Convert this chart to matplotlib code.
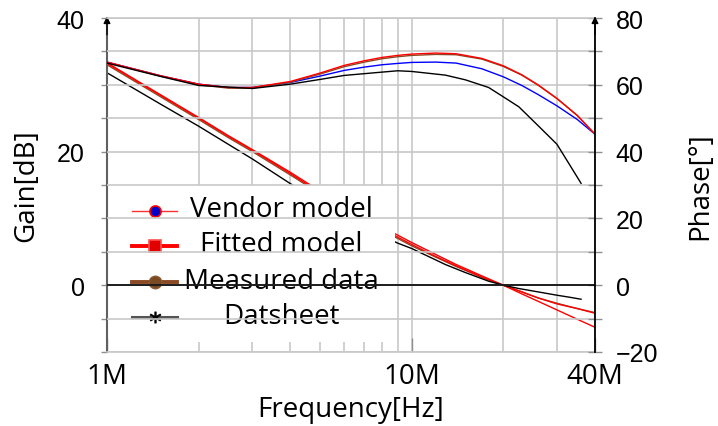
import matplotlib
matplotlib.use("Agg")
import matplotlib.pyplot as plt
from matplotlib.lines import Line2D
from matplotlib.patches import Rectangle
from matplotlib.ticker import FixedLocator, FixedFormatter, NullFormatter

# ---- data (frequency in MHz) ----
freq_mhz = [1, 1.5, 2, 2.5, 3, 4, 5, 6, 7, 8, 9, 10, 12, 14, 17, 20, 23, 26, 30, 35, 40]

vendor_gain = [33.3, 28.5, 25.1, 22.4, 20.3, 16.9, 14.1, 11.9, 10.2, 8.7, 7.5, 6.4,
               4.6, 3.1, 1.4, 0.0, -1.3, -2.4, -3.7, -5.1, -6.3]
fitted_gain = [33.2, 28.4, 25.0, 22.3, 20.2, 16.7, 13.9, 11.7, 9.9, 8.4, 7.2, 6.1,
               4.3, 2.9, 1.2, 0.0, -1.0, -1.9, -2.8, -3.5, -4.2]
measured_gain = [33.0, 28.2, 24.8, 22.1, 20.0, 16.5, 13.7, 11.5, 9.7, 8.2, 7.0, 5.9,
                 4.2, 2.8, 1.2, 0.0, -1.0, -1.9, -2.7, -3.5, -4.1]

vendor_phase = [66.8, 62.7, 60.2, 59.2, 59.2, 60.7, 62.6, 64.3, 65.3, 66.0, 66.4, 66.7,
                66.8, 66.5, 64.8, 62.4, 59.8, 57.1, 53.7, 49.6, 45.2]
fitted_phase = [66.8, 62.7, 60.2, 59.2, 59.2, 61.0, 63.5, 65.8, 67.2, 68.2, 68.8, 69.2,
                69.5, 69.3, 67.9, 65.7, 63.0, 60.0, 55.9, 50.8, 45.2]
measured_phase = [66.7, 62.6, 60.0, 59.0, 59.0, 60.8, 63.2, 65.4, 66.8, 67.8, 68.4, 68.8,
                  69.1, 69.0, 67.7, 65.5, 62.9, 59.9, 55.9, 50.8, 45.2]

# datasheet values are sparser and stop before 40M
sheet_freq_mhz = [1, 1.5, 2, 3, 4, 5, 6, 8, 9, 10, 12.9, 15, 17.9, 20, 22.5, 26, 30, 33, 36]
sheet_gain = [31.8, 27.1, 23.8, 18.9, 15.2, 12.5, 10.4, 7.4, 6.3, 5.5, 3.1, 1.9, 0.6,
              0.0, -0.5, -1.0, -1.5, -1.8, -2.1]
sheet_phase = [66.5, 62.5, 59.8, 58.9, 60.2, 61.6, 62.8, 63.8, 64.2, 64.0, 62.9, 61.5,
               59.2, 56.4, 53.4, 47.8, 42.2, 36.1, 30.5]

legend_labels = ["Vendor model", "Fitted model", "Measured data", "Datsheet"]

RED = "#ff0000"
BROWN = "#8a4a24"
GRID = "#c8c8c8"
LABEL_FONT = "Open Sans"
TICK_FONT = "Liberation Sans"


def num(v):
    # long minus like the original
    return str(v).replace("-", "\u2212")


f = [v * 1e6 for v in freq_mhz]
fs = [v * 1e6 for v in sheet_freq_mhz]

fig = plt.figure(figsize=(7.18, 4.27), dpi=100)
ax1 = fig.add_axes([107 / 718, 74 / 427, 488 / 718, 334 / 427])
ax2 = ax1.twinx()

# ---- gain axis (left) ----
ax1.set_xscale("log")
ax1.set_xlim(1e6, 40e6)
ax1.set_ylim(-10, 40)

ax1.plot(f, vendor_gain, color=RED, lw=1.0)
ax1.plot(f, measured_gain, color=BROWN, lw=1.0)
ax1.plot(f, fitted_gain, color=RED, lw=1.0)
ax1.plot(fs, sheet_gain, color="black", lw=1.0)

ax1.xaxis.set_major_locator(FixedLocator([1e6, 10e6, 40e6]))
ax1.xaxis.set_major_formatter(FixedFormatter(["1M", "10M", "40M"]))
minor_x = [k * 1e6 for k in range(2, 10)] + [20e6, 30e6]
ax1.xaxis.set_minor_locator(FixedLocator(minor_x))
ax1.xaxis.set_minor_formatter(NullFormatter())
ax1.grid(True, which="minor", axis="x", color=GRID, lw=1.2)
ax1.grid(True, which="major", axis="x", color=GRID, lw=1.2)
ax1.tick_params(axis="x", which="major", direction="in", length=10, width=1,
                color="#909090", pad=7, labelsize=20)
ax1.tick_params(axis="x", which="minor", length=0)
for t in ax1.get_xticklabels():
    t.set_fontfamily(LABEL_FONT)

ax1.yaxis.set_major_locator(FixedLocator(list(range(-10, 45, 5))))
ax1.yaxis.set_major_formatter(FixedFormatter(
    ["" if v not in (0, 20, 40) else num(v) for v in range(-10, 45, 5)]))
ax1.tick_params(axis="y", direction="out", length=4, width=1, color="#909090",
                pad=12, labelsize=18)
for t in ax1.get_yticklabels():
    t.set_fontfamily(TICK_FONT)

ax1.set_xlabel("Frequency[Hz]", fontsize=20, fontfamily=LABEL_FONT, labelpad=4)
ax1.set_ylabel("Gain[dB]", fontsize=20, fontfamily=LABEL_FONT, labelpad=12)

for side in ("top", "right"):
    ax1.spines[side].set_visible(False)
ax1.spines["left"].set_color("#606060")
ax1.spines["left"].set_linewidth(1.5)
ax1.spines["bottom"].set_color(GRID)
ax1.spines["bottom"].set_linewidth(1.2)

# legend drawn by hand so the text can be centred like the original
ax1.add_patch(Rectangle((0.012, 0.03), 0.578, 0.47, transform=ax1.transAxes,
                        facecolor="white", edgecolor="none", zorder=5))
rows = [0.427, 0.322, 0.214, 0.108]
styles = [
    dict(color="#ff3030", lw=1.0, marker="o", ms=8, mfc="#0000c8", mec=RED, mew=1.2),
    dict(color=RED, lw=2.8, marker="s", ms=8, mfc="#e00000", mec="#ff5050", mew=1.2),
    dict(color=BROWN, lw=2.8, marker="o", ms=9, mfc="#7a4a22", mec="#8a5a32", mew=1),
    dict(color="#555555", lw=2.2, marker="$*$", ms=8, mfc="black", mec="black", mew=0.6),
]
for y, lab, st in zip(rows, legend_labels, styles):
    ax1.add_line(Line2D([0.051, 0.143], [y - 0.004, y - 0.004], transform=ax1.transAxes,
                        color=st["color"], lw=st["lw"], zorder=6))
    ax1.add_line(Line2D([0.098], [y - 0.004], transform=ax1.transAxes, ls="none",
                        marker=st["marker"], ms=st["ms"], mfc=st["mfc"],
                        mec=st["mec"], mew=st["mew"], zorder=7))
    ax1.text(0.357, y, lab, transform=ax1.transAxes, ha="center", va="center",
             fontsize=20, fontfamily=LABEL_FONT, zorder=7)

ax1.annotate("", xy=(0, 1.005), xytext=(0, 0.95), xycoords="axes fraction",
             arrowprops=dict(arrowstyle="-|>", color="black", lw=1.0,
                             mutation_scale=10, shrinkA=0, shrinkB=0))

# ---- phase axis (right) ----
ax2.set_ylim(-20, 80)
ax2.yaxis.set_major_locator(FixedLocator(list(range(-20, 90, 10))))
ax2.yaxis.set_major_formatter(FixedFormatter(
    [num(v) if v % 20 == 0 else "" for v in range(-20, 90, 10)]))
ax2.grid(True, axis="y", color=GRID, lw=1.2)
ax2.tick_params(axis="y", direction="inout", length=10, width=1, color="#909090",
                pad=10, labelsize=18)
for t in ax2.get_yticklabels():
    t.set_fontfamily(TICK_FONT)
ax2.set_ylabel("Phase[°]", fontsize=20, fontfamily=LABEL_FONT, labelpad=20)

ax2.axhline(0, color="black", lw=1.2, zorder=3)
ax2.plot(f, vendor_phase, color="#0000ff", lw=1.0)
ax2.plot(f, measured_phase, color=BROWN, lw=1.0)
ax2.plot(f, fitted_phase, color=RED, lw=1.0)
ax2.plot(fs, sheet_phase, color="black", lw=1.0)

for side in ("left", "bottom"):
    ax2.spines[side].set_visible(False)
ax2.spines["top"].set_color(GRID)
ax2.spines["top"].set_linewidth(1.2)
ax2.spines["right"].set_color("black")
ax2.spines["right"].set_linewidth(1.3)
ax2.annotate("", xy=(1, 1.005), xytext=(1, 0.95), xycoords="axes fraction",
             arrowprops=dict(arrowstyle="-|>", color="black", lw=1.0,
                             mutation_scale=10, shrinkA=0, shrinkB=0))

fig.savefig("out.png", dpi=100)
